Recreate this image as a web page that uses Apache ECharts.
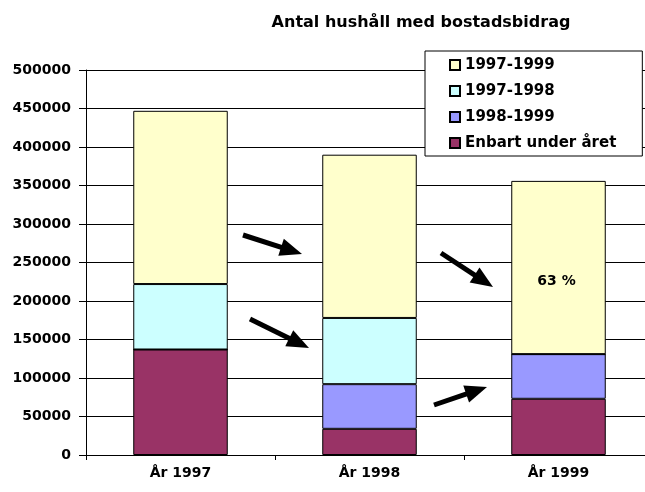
<!DOCTYPE html>
<html>
<head>
<meta charset="utf-8">
<script src="https://cdn.jsdelivr.net/npm/echarts@6/dist/echarts.min.js"></script>
<style>
  html, body { margin: 0; padding: 0; background: #fff; }
  #chart { width: 645px; height: 492px; }
</style>
</head>
<body>
<div id="chart"></div>
<script>
// kategorier och värden
var categories = ['År 1997', 'År 1998', 'År 1999'];
var enbart = [137000, 34000, 73000];      // Enbart under året
var s9899 = [0, 58000, 58000];            // 1998-1999
var s9798 = [85000, 86000, 0];            // 1997-1998
var s9799 = [225000, 212000, 225000];     // 1997-1999
var yTicks = [0, 50000, 100000, 150000, 200000, 250000, 300000, 350000, 400000, 450000, 500000];
var pctLabel = '63 %';

var FONT = 'DejaVu Sans';

// pilar, pixelkoordinater [start, spets]
var arrows = [
  [[243, 235], [302, 254]],
  [[250, 319], [309, 348]],
  [[441, 253], [493, 287]],
  [[434, 405], [487, 387]]
];

function arrowGraphic(a) {
  var x0 = a[0][0], y0 = a[0][1], x1 = a[1][0], y1 = a[1][1];
  var dx = x1 - x0, dy = y1 - y0;
  var len = Math.sqrt(dx * dx + dy * dy);
  var ux = dx / len, uy = dy / len;
  var hl = 22, hw = 9;
  var bx = x1 - ux * hl, by = y1 - uy * hl;
  return {
    type: 'group',
    children: [
      {
        type: 'line',
        shape: { x1: x0, y1: y0, x2: bx + ux * 2, y2: by + uy * 2 },
        style: { stroke: '#000', lineWidth: 5 }
      },
      {
        type: 'polygon',
        shape: { points: [[x1, y1], [bx - uy * hw, by + ux * hw], [bx + uy * hw, by - ux * hw]] },
        style: { fill: '#000' }
      }
    ]
  };
}

var myChart = echarts.init(document.getElementById('chart'));

function seg(name, data, color) {
  return {
    name: name,
    type: 'bar',
    stack: 'tot',
    barWidth: '50%',
    data: data,
    itemStyle: { color: color, borderColor: '#000', borderWidth: 1 }
  };
}

var s1999 = seg('1997-1999', s9799.map(function (v, i) {
  if (i === 2) {
    return {
      value: v,
      label: {
        show: true, position: 'inside', offset: [-2, 14], formatter: pctLabel,
        fontFamily: FONT, fontWeight: 'bold', fontSize: 14, color: '#000'
      }
    };
  }
  return v;
}), '#FFFFCC');

myChart.setOption({
  animation: false,
  title: {
    text: 'Antal hushåll med bostadsbidrag',
    left: 416, top: 10, textAlign: 'center',
    textStyle: { fontFamily: FONT, fontWeight: 'bold', fontSize: 16, color: '#000' }
  },
  legend: {
    orient: 'vertical',
    left: 425, top: 51,
    data: ['1997-1999', '1997-1998', '1998-1999', 'Enbart under året'],
    icon: 'rect',
    itemWidth: 10, itemHeight: 10,
    itemGap: 10,
    padding: [6, 26, 5, 24],
    borderColor: '#000', borderWidth: 1,
    backgroundColor: '#fff',
    textStyle: { fontFamily: FONT, fontWeight: 'bold', fontSize: 15, lineHeight: 16, color: '#000' }
  },
  grid: { left: 86, width: 567, top: 70, bottom: 37, containLabel: false, outerBoundsMode: 'none' },
  xAxis: {
    type: 'category',
    data: categories,
    axisLine: { lineStyle: { color: '#000', width: 1 } },
    axisTick: { show: true, length: 5, lineStyle: { color: '#000' } },
    axisLabel: { fontFamily: FONT, fontWeight: 'bold', fontSize: 14, color: '#000', margin: 11 }
  },
  yAxis: {
    type: 'value',
    min: yTicks[0], max: yTicks[yTicks.length - 1], interval: 50000,
    axisLine: { show: true, lineStyle: { color: '#000', width: 1 } },
    axisTick: { show: true, length: 7, lineStyle: { color: '#000' } },
    splitLine: { lineStyle: { color: '#000', width: 1 } },
    axisLabel: {
      fontFamily: FONT, fontWeight: 'bold', fontSize: 14, color: '#000', margin: 15,
      formatter: function (v) { return String(v); }
    }
  },
  series: [
    seg('Enbart under året', enbart, '#993366'),
    seg('1998-1999', s9899, '#9999FF'),
    seg('1997-1998', s9798, '#CCFFFF'),
    s1999
  ],
  graphic: arrows.map(arrowGraphic)
});
</script>
</body>
</html>
